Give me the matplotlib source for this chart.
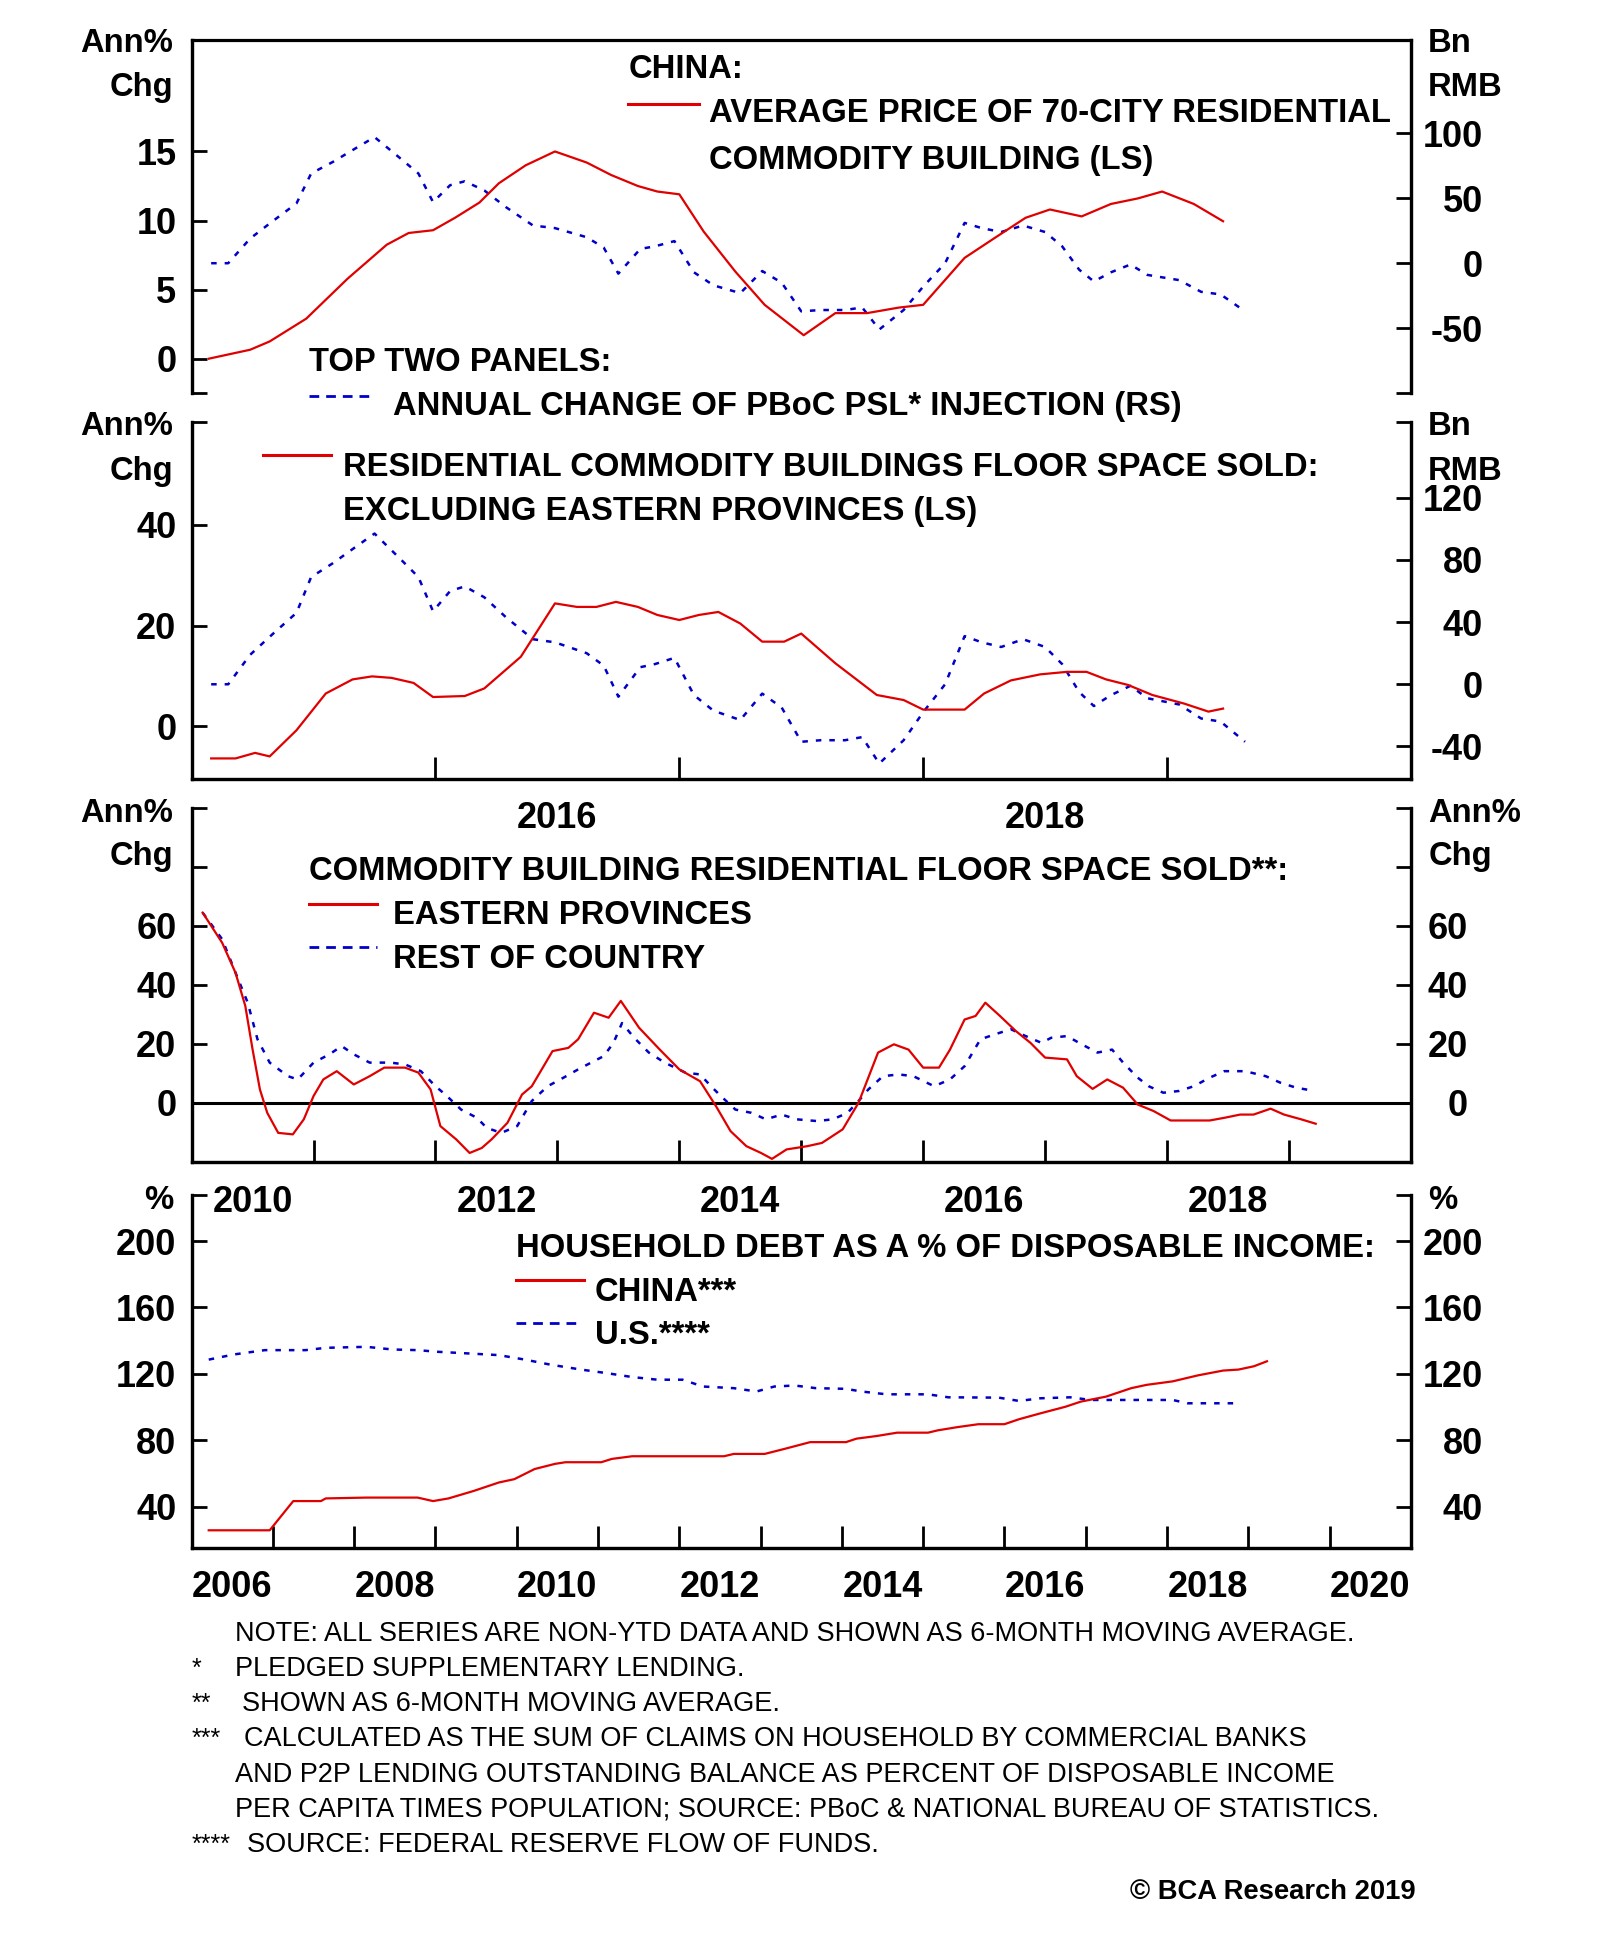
import matplotlib
matplotlib.use('Agg')
import matplotlib.pyplot as plt
from matplotlib.lines import Line2D

plt.rcParams['font.family'] = ['Liberation Sans', 'DejaVu Sans']
plt.rcParams['font.weight'] = 'bold'
plt.rcParams['axes.unicode_minus'] = False

# ----- panel 1: 70-city price (LS) and PSL injection (RS, shared with panel 2)
price_x = [2015.07, 2015.24, 2015.32, 2015.47, 2015.64, 2015.80, 2015.89, 2015.99, 2016.08,
           2016.18, 2016.26, 2016.37, 2016.49, 2016.62, 2016.72, 2016.83, 2016.91, 2017.00,
           2017.10, 2017.23, 2017.35, 2017.51, 2017.64, 2017.77, 2017.90, 2018.00, 2018.17,
           2018.29, 2018.42, 2018.52, 2018.65, 2018.77, 2018.88, 2018.98, 2019.11, 2019.23]
price_v = [0.0, 0.65, 1.25, 2.9, 5.8, 8.25, 9.1, 9.3, 10.2,
           11.3, 12.7, 14.0, 15.0, 14.2, 13.3, 12.5, 12.1, 11.9,
           9.2, 6.3, 3.9, 1.7, 3.3, 3.3, 3.7, 3.9, 7.3,
           8.7, 10.2, 10.8, 10.3, 11.2, 11.6, 12.1, 11.2, 9.95]

psl_x = [2015.08, 2015.15, 2015.24, 2015.33, 2015.43, 2015.49, 2015.58, 2015.66, 2015.75,
         2015.86, 2015.93, 2015.99, 2016.06, 2016.12, 2016.20, 2016.29, 2016.40, 2016.49,
         2016.62, 2016.69, 2016.75, 2016.84, 2016.90, 2016.98, 2017.06, 2017.14, 2017.25,
         2017.34, 2017.42, 2017.50, 2017.58, 2017.68, 2017.75, 2017.82, 2017.92, 2018.00,
         2018.09, 2018.17, 2018.24, 2018.32, 2018.41, 2018.50, 2018.57, 2018.64, 2018.70,
         2018.77, 2018.85, 2018.92, 2019.05, 2019.14, 2019.22, 2019.32]
psl_v = [0, 0, 19, 32, 46, 69, 78, 87, 97,
         80, 69, 47, 60, 63, 56, 43, 29, 27,
         20, 12, -8, 11, 13, 17, -7, -17, -23,
         -6, -15, -37, -36, -36, -34, -51, -36, -18,
         0, 31, 27, 24, 29, 24, 13, -5, -14,
         -7, -1, -9, -13, -22, -24, -37]

# ----- panel 2: floor space sold excl. eastern provinces (LS)
floor_x = [2015.08, 2015.18, 2015.26, 2015.32, 2015.43, 2015.55, 2015.66, 2015.74, 2015.82,
           2015.91, 2015.99, 2016.12, 2016.20, 2016.35, 2016.49, 2016.58, 2016.66, 2016.74,
           2016.83, 2016.91, 2017.00, 2017.08, 2017.16, 2017.25, 2017.34, 2017.43, 2017.50,
           2017.64, 2017.81, 2017.92, 2018.00, 2018.17, 2018.25, 2018.36, 2018.48, 2018.59,
           2018.67, 2018.75, 2018.84, 2018.94, 2019.07, 2019.17, 2019.23]
floor_v = [-6.4, -6.4, -5.3, -6.0, -0.8, 6.5, 9.3, 9.9, 9.6,
           8.6, 5.8, 6.0, 7.5, 13.8, 24.4, 23.7, 23.7, 24.7,
           23.7, 22.1, 21.1, 22.1, 22.7, 20.4, 16.8, 16.8, 18.4,
           12.5, 6.2, 5.2, 3.3, 3.3, 6.5, 9.1, 10.3, 10.8,
           10.8, 9.3, 8.2, 6.2, 4.5, 2.9, 3.5]

# ----- panel 3: floor space sold, eastern provinces vs rest of country
east_x = [2010.09, 2010.25, 2010.36, 2010.44, 2010.50, 2010.56, 2010.62, 2010.71, 2010.83,
          2010.92, 2011.00, 2011.08, 2011.19, 2011.33, 2011.46, 2011.58, 2011.75, 2011.86,
          2011.96, 2012.04, 2012.17, 2012.28, 2012.38, 2012.46, 2012.59, 2012.71, 2012.79,
          2012.96, 2013.09, 2013.17, 2013.30, 2013.42, 2013.52, 2013.67, 2013.84, 2014.00,
          2014.17, 2014.30, 2014.42, 2014.55, 2014.67, 2014.76, 2014.88, 2015.05, 2015.17,
          2015.34, 2015.47, 2015.63, 2015.76, 2015.88, 2016.00, 2016.13, 2016.22, 2016.34,
          2016.43, 2016.51, 2016.63, 2016.76, 2016.88, 2017.00, 2017.18, 2017.26, 2017.39,
          2017.51, 2017.64, 2017.76, 2017.89, 2018.03, 2018.18, 2018.35, 2018.47, 2018.60,
          2018.71, 2018.85, 2018.96, 2019.10, 2019.22]
east_v = [64.4, 54.2, 44.0, 32.8, 18.0, 4.5, -3.4, -10.2, -10.7,
          -5.6, 2.3, 7.9, 10.7, 6.2, 9.0, 11.9, 11.9, 10.2,
          4.5, -7.9, -12.4, -17.0, -15.3, -12.4, -6.8, 2.8, 5.6,
          17.5, 18.6, 21.5, 30.5, 28.8, 34.5, 25.4, 18.0, 11.3,
          7.3, -1.1, -9.6, -14.7, -17.0, -19.0, -15.8, -14.7, -13.6,
          -9.0, 0.0, 17.0, 19.8, 18.0, 11.9, 11.9, 18.0, 28.2,
          29.4, 33.9, 29.4, 24.3, 20.3, 15.3, 14.7, 9.0, 4.7,
          7.9, 5.1, -0.6, -2.8, -6.0, -6.0, -6.0, -5.1, -4.0,
          -4.0, -2.0, -4.0, -5.6, -7.1]

rest_x = [2010.09, 2010.25, 2010.37, 2010.46, 2010.54, 2010.64, 2010.79, 2010.87, 2011.00,
          2011.13, 2011.23, 2011.33, 2011.46, 2011.63, 2011.75, 2011.88, 2012.00, 2012.08,
          2012.21, 2012.34, 2012.42, 2012.54, 2012.67, 2012.79, 2012.92, 2013.05, 2013.17,
          2013.30, 2013.38, 2013.46, 2013.53, 2013.63, 2013.75, 2013.88, 2014.05, 2014.17,
          2014.26, 2014.34, 2014.46, 2014.59, 2014.71, 2014.84, 2014.96, 2015.13, 2015.26,
          2015.38, 2015.47, 2015.55, 2015.67, 2015.80, 2015.92, 2016.09, 2016.22, 2016.34,
          2016.47, 2016.59, 2016.72, 2016.84, 2016.97, 2017.05, 2017.18, 2017.30, 2017.43,
          2017.55, 2017.64, 2017.76, 2017.85, 2017.97, 2018.10, 2018.22, 2018.35, 2018.47,
          2018.64, 2018.81, 2018.93, 2019.06, 2019.21]
rest_v = [64.4, 55.4, 43.0, 33.9, 21.5, 13.6, 9.0, 7.9, 13.6,
          16.4, 19.2, 16.4, 13.6, 13.6, 13.0, 10.7, 5.6, 2.8,
          -2.3, -5.1, -8.5, -10.2, -7.9, 0.6, 5.6, 8.5, 11.3,
          14.1, 15.8, 20.3, 27.0, 22.0, 17.0, 13.6, 10.2, 9.6,
          5.6, 2.3, -2.3, -3.4, -5.6, -4.0, -5.6, -6.2, -5.6,
          -3.4, 0.6, 4.5, 9.0, 9.6, 9.0, 5.6, 7.9, 12.4,
          21.5, 23.2, 24.9, 22.6, 20.3, 22.0, 22.6, 19.8, 17.0,
          18.0, 13.6, 8.5, 5.6, 3.4, 4.0, 5.6, 8.5, 10.7,
          10.7, 9.0, 6.8, 5.1, 4.0]

# ----- panel 4: household debt as % of disposable income
china_x = [2006.21, 2006.96, 2007.25, 2007.59, 2007.65, 2008.15, 2008.78, 2008.97, 2009.16,
           2009.47, 2009.78, 2009.97, 2010.22, 2010.47, 2010.60, 2011.04, 2011.17, 2011.42,
           2011.92, 2012.55, 2012.67, 2013.05, 2013.30, 2013.61, 2014.05, 2014.18, 2014.43,
           2014.68, 2015.06, 2015.18, 2015.43, 2015.68, 2016.00, 2016.18, 2016.44, 2016.75,
           2016.94, 2017.25, 2017.56, 2017.75, 2018.07, 2018.38, 2018.69, 2018.88, 2019.07,
           2019.23]
china_v = [25.8, 25.8, 43.4, 43.4, 45.0, 45.5, 45.5, 43.4, 45.0,
           49.5, 54.6, 56.6, 62.7, 65.8, 66.8, 66.8, 68.8, 70.4,
           70.4, 70.4, 71.8, 71.8, 74.9, 78.9, 78.9, 81.0, 82.6,
           84.6, 84.6, 86.0, 88.0, 89.7, 89.7, 92.7, 96.2, 100.2,
           103.3, 106.3, 111.4, 113.4, 115.5, 119.1, 122.0, 122.6, 124.6,
           127.6]

us_x = [2006.21, 2006.52, 2006.90, 2007.40, 2007.65, 2008.15, 2008.47, 2008.78, 2009.03,
        2009.41, 2009.78, 2010.10, 2010.41, 2010.79, 2011.10, 2011.42, 2011.73, 2012.04,
        2012.29, 2012.67, 2012.95, 2013.17, 2013.42, 2013.68, 2014.05, 2014.24, 2014.55,
        2015.06, 2015.31, 2015.93, 2016.18, 2016.44, 2016.81, 2017.06, 2018.07, 2018.25,
        2018.82]
us_v = [128.6, 131.7, 134.3, 134.3, 135.7, 136.3, 134.7, 134.3, 133.3,
        132.3, 131.3, 128.6, 125.6, 122.6, 120.5, 118.1, 116.5, 116.5,
        112.4, 111.4, 109.4, 112.4, 113.0, 111.4, 111.0, 109.4, 107.7,
        107.7, 105.9, 105.7, 103.7, 105.3, 105.9, 104.3, 104.3, 102.3,
        102.3]

# ----- tick labels
p1_left_ticks = [0, 5, 10, 15]
p1_right_ticks = [-50, 0, 50, 100]
p2_left_ticks = [0, 20, 40]
p2_right_ticks = [-40, 0, 40, 80, 120]
p3_ticks = [0, 20, 40, 60, 80, 100]
p3_labels = ['0', '20', '40', '60', '', '']
p4_ticks = [40, 80, 120, 160, 200]
p2_years = ['2016', '2018']
p3_years = ['2010', '2012', '2014', '2016', '2018']
p4_years = ['2006', '2008', '2010', '2012', '2014', '2016', '2018', '2020']

footnotes = [
    ('', 'NOTE: ALL SERIES ARE NON-YTD DATA AND SHOWN AS 6-MONTH MOVING AVERAGE.'),
    ('*', 'PLEDGED SUPPLEMENTARY LENDING.'),
    ('**', 'SHOWN AS 6-MONTH MOVING AVERAGE.'),
    ('***', 'CALCULATED AS THE SUM OF CLAIMS ON HOUSEHOLD BY COMMERCIAL BANKS'),
    ('', 'AND P2P LENDING OUTSTANDING BALANCE AS PERCENT OF DISPOSABLE INCOME'),
    ('', 'PER CAPITA TIMES POPULATION; SOURCE: PBoC & NATIONAL BUREAU OF STATISTICS.'),
    ('****', 'SOURCE: FEDERAL RESERVE FLOW OF FUNDS.'),
]

RED = '#e00000'
BLUE = '#0000c8'
DOTS = (0, (2.2, 3.2))
TICK_FS = 26
TEXT_FS = 23.6

fig = plt.figure(figsize=(16, 19.39), dpi=100)
W, H = 1294.0, 1568.0  # layout measured on a scaled-down copy of the chart


def fx(x):
    return x / W


def fy(y):
    return 1 - y / H


def panel(top, bottom, right_pad=52):
    ax = fig.add_axes([fx(155), fy(bottom), fx(1141) - fx(155), fy(top) - fy(bottom)])
    axr = ax.twinx()
    for a in (ax, axr):
        for s in a.spines.values():
            s.set_linewidth(2.3)
        a.spines['top'].set_visible(False)
    ax.tick_params(axis='y', direction='in', length=11, width=2, labelsize=TICK_FS, pad=11)
    # right hand labels are right aligned in the original
    axr.tick_params(axis='y', direction='in', length=11, width=2, labelsize=TICK_FS, pad=right_pad)
    ax.set_zorder(axr.get_zorder() + 1)
    ax.patch.set_visible(False)
    return ax, axr


def right_align(axr):
    for t in axr.get_yticklabels():
        t.set_horizontalalignment('right')


def year_axis(ax, lo, hi, labels):
    ax.set_xlim(lo, hi)
    ax.set_xticks(range(int(lo) + 1, int(hi)))
    ax.set_xticklabels([])
    ax.set_xticks([int(l) + 0.5 for l in labels], minor=True)
    ax.set_xticklabels(labels, minor=True)
    ax.tick_params(axis='x', which='major', direction='in', length=16, width=2)
    ax.tick_params(axis='x', which='minor', length=0, pad=16, labelsize=TICK_FS)


def legend_line(x0, x1, y, **kw):
    fig.add_artist(Line2D([fx(x0), fx(x1)], [fy(y), fy(y)], transform=fig.transFigure, **kw))


def label(x, y, s, ha='left', size=TEXT_FS, **kw):
    # +3: centre the capitals rather than the whole text box
    fig.text(fx(x), fy(y + 3), s, ha=ha, va='center', fontsize=size, **kw)


# ================= panel 1
ax1, ax1r = panel(32, 318)
ax1.spines['top'].set_visible(True)
ax1.spines['bottom'].set_visible(False)
ax1r.spines['bottom'].set_visible(False)
ax1.plot(price_x, price_v, color=RED, lw=1.6)
ax1r.plot(psl_x, psl_v, color=BLUE, lw=1.8, linestyle=DOTS)
ax1.set_xlim(2015, 2020)
ax1.set_ylim(-2.5, 23.1)
ax1.set_yticks([-2.5] + p1_left_ticks)
ax1.set_yticklabels([''] + [str(t) for t in p1_left_ticks])
ax1r.set_ylim(-100, 172)
ax1r.set_yticks([-100] + p1_right_ticks)
ax1r.set_yticklabels([''] + [str(t) for t in p1_right_ticks])
right_align(ax1r)
ax1.tick_params(axis='x', which='both', bottom=False, labelbottom=False)

# ================= panel 2
ax2, ax2r = panel(341, 630)
ax2.plot(floor_x, floor_v, color=RED, lw=1.6)
ax2r.plot(psl_x, psl_v, color=BLUE, lw=1.8, linestyle=DOTS)
year_axis(ax2, 2015, 2020, p2_years)
ax2.set_ylim(-10.5, 60.5)
ax2.set_yticks(p2_left_ticks + [60.5])
ax2.set_yticklabels([str(t) for t in p2_left_ticks] + [''])
ax2r.set_ylim(-61, 169)
ax2r.set_yticks(p2_right_ticks + [169])
ax2r.set_yticklabels([str(t) for t in p2_right_ticks] + [''])
right_align(ax2r)

# ================= panel 3
ax3, ax3r = panel(653, 940, right_pad=41)
ax3.axhline(0, color='black', lw=2.2)
ax3.plot(rest_x, rest_v, color=BLUE, lw=1.8, linestyle=DOTS)
ax3.plot(east_x, east_v, color=RED, lw=1.6)
year_axis(ax3, 2010, 2020, p3_years)
for a in (ax3, ax3r):
    a.set_ylim(-20.2, 100)
    a.set_yticks(p3_ticks)
    a.set_yticklabels(p3_labels)
right_align(ax3r)

# ================= panel 4
ax4, ax4r = panel(966, 1252)
ax4.plot(us_x, us_v, color=BLUE, lw=1.8, linestyle=DOTS)
ax4.plot(china_x, china_v, color=RED, lw=1.6)
year_axis(ax4, 2006, 2021, p4_years)
for a in (ax4, ax4r):
    a.set_ylim(15, 228)
    a.set_yticks(p4_ticks + [228])
    a.set_yticklabels([str(t) for t in p4_ticks] + [''])
right_align(ax4r)

# ----- unit labels
for y0, left, right in [(32, 'Ann%', 'Bn'), (68, 'Chg', 'RMB'),
                        (342, 'Ann%', 'Bn'), (378, 'Chg', 'RMB'),
                        (655, 'Ann%', 'Ann%'), (690, 'Chg', 'Chg'),
                        (968, '%', '%')]:
    label(140, y0, left, ha='right')
    label(1155, y0, right)

# ----- legends
label(508, 53, 'CHINA:')
legend_line(508, 565, 84, color=RED, lw=2.2)
label(573, 89, 'AVERAGE PRICE OF 70-CITY RESIDENTIAL')
label(573, 127, 'COMMODITY BUILDING (LS)')
label(250, 290, 'TOP TWO PANELS:')
legend_line(250, 302, 320, color=BLUE, lw=2, linestyle=(0, (3.5, 2.5)))
label(318, 326, 'ANNUAL CHANGE OF PBoC PSL* INJECTION (RS)')

legend_line(213, 268, 368, color=RED, lw=2.2)
label(277, 375, 'RESIDENTIAL COMMODITY BUILDINGS FLOOR SPACE SOLD:')
label(277, 411, 'EXCLUDING EASTERN PROVINCES (LS)')

label(250, 702, 'COMMODITY BUILDING RESIDENTIAL FLOOR SPACE SOLD**:')
legend_line(250, 305, 731, color=RED, lw=2.2)
label(318, 737, 'EASTERN PROVINCES')
legend_line(250, 305, 766, color=BLUE, lw=2, linestyle=(0, (3.5, 2.5)))
label(318, 773, 'REST OF COUNTRY')

label(417, 1007, 'HOUSEHOLD DEBT AS A % OF DISPOSABLE INCOME:')
legend_line(417, 472, 1035, color=RED, lw=2.2)
label(481, 1042, 'CHINA***')
legend_line(417, 470, 1070, color=BLUE, lw=2, linestyle=(0, (3.5, 2.5)))
label(481, 1077, 'U.S.****')

# ----- footnotes
note_x = {'': 190, '*': 190, '**': 196, '***': 197, '****': 200}
for i, (mark, txt) in enumerate(footnotes):
    y0 = 1318 + i * 28.5
    if mark:
        label(155, y0, mark, size=18, fontweight='normal')
    label(note_x[mark], y0, txt, size=19.5, fontweight='normal')
label(1145, 1527, '\u00a9 BCA Research 2019', ha='right', size=19.7)

fig.savefig('out.png', dpi=100, facecolor='white')
